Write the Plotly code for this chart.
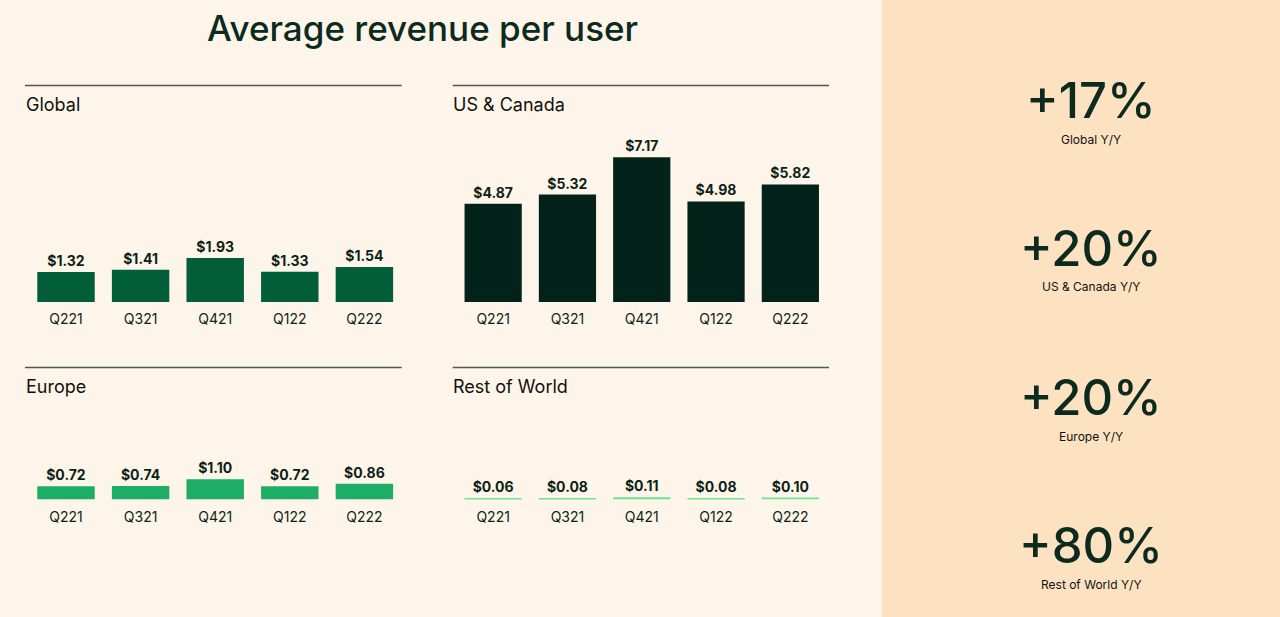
import plotly.graph_objects as go

W, H = 1280, 617

quarters = ["Q221", "Q321", "Q421", "Q122", "Q222"]
global_arpu = [1.32, 1.41, 1.93, 1.33, 1.54]
us_canada_arpu = [4.87, 5.32, 7.17, 4.98, 5.82]
europe_arpu = [0.72, 0.74, 1.10, 0.72, 0.86]
row_arpu = [0.06, 0.08, 0.11, 0.08, 0.10]

panel_titles = ["Global", "US & Canada", "Europe", "Rest of World"]
bar_colors = ["#025D39", "#03231A", "#1DAE65", "#6FE38E"]

yoy_values = ["+17%", "+20%", "+20%", "+80%"]
yoy_labels = ["Global Y/Y", "US & Canada Y/Y", "Europe Y/Y", "Rest of World Y/Y"]

BG = "#FDF5EA"
PANEL = "#FDE2C2"
INK = "#0E1F17"
FONT = "Inter"


def px(x):
    return x / W


def py(y):
    return 1 - y / H


# panel geometry (pixels): x-left, x-right, baseline y, top y, px per unit
panels = [
    (28.7, 401.7, 302, 130, 22.8),
    (456.0, 827.5, 302, 120, 20.2),
    (28.7, 401.7, 499.5, 400, 18.3),
    (456.0, 827.5, 499.5, 400, 20.0),
]
series = [global_arpu, us_canada_arpu, europe_arpu, row_arpu]

fig = go.Figure()
layout_axes = {}
for i, ((xl, xr, yb, yt, scale), vals, col) in enumerate(zip(panels, series, bar_colors)):
    n = "" if i == 0 else str(i + 1)
    fig.add_trace(go.Bar(
        x=quarters, y=vals,
        xaxis="x" + n, yaxis="y" + n,
        marker=dict(color=col, line=dict(width=0)),
        text=[f"${v:.2f}" for v in vals],
        textposition="outside",
        textfont=dict(family=FONT, size=14, color=INK, weight="bold"),
        cliponaxis=False,
        hoverinfo="skip",
        showlegend=False,
    ))
    layout_axes["xaxis" + n] = dict(
        domain=[px(xl), px(xr)], anchor="y" + n,
        showgrid=False, zeroline=False, showline=False,
        ticks="", ticklabelstandoff=7,
        tickfont=dict(family=FONT, size=14, color=INK),
        fixedrange=True,
    )
    layout_axes["yaxis" + n] = dict(
        domain=[py(yb), py(yt)], anchor="x" + n,
        range=[0, (yb - yt) / scale],
        visible=False, showgrid=False, zeroline=False, fixedrange=True,
    )

fig.update_layout(**layout_axes)
fig.update_layout(bargap=0.23)

shapes = [
    dict(type="rect", xref="paper", yref="paper", x0=px(882), x1=1, y0=0, y1=1,
         fillcolor=PANEL, line=dict(width=0), layer="below"),
]
line_pos = [(25, 401.7, 85.5), (452.7, 829, 85.5), (25, 401.7, 367.5), (452.7, 829, 367.5)]
for x0, x1, y in line_pos:
    shapes.append(dict(type="line", xref="paper", yref="paper",
                       x0=px(x0), x1=px(x1), y0=py(y), y1=py(y),
                       line=dict(color="#555555", width=1.5)))

annotations = [
    dict(text="Average revenue per user", xref="paper", yref="paper",
         x=px(422), y=py(28), xanchor="center", yanchor="middle", showarrow=False,
         font=dict(family=FONT, size=35, color="#0C2A1D", weight=500)),
]
title_pos = [(24, 104), (451, 104), (24, 386), (451, 386)]
for t, (x, y) in zip(panel_titles, title_pos):
    annotations.append(dict(text=t, xref="paper", yref="paper", x=px(x), y=py(y),
                            xanchor="left", yanchor="middle", showarrow=False,
                            font=dict(family=FONT, size=18, color="#111111")))

big_y = [100, 248, 397, 545]
for v, lab, y in zip(yoy_values, yoy_labels, big_y):
    annotations.append(dict(text=v, xref="paper", yref="paper", x=px(1091), y=py(y),
                            xanchor="center", yanchor="middle", showarrow=False,
                            font=dict(family=FONT, size=49, color="#0C2A1D", weight=500)))
    annotations.append(dict(text=lab, xref="paper", yref="paper", x=px(1091), y=py(y + 39),
                            xanchor="center", yanchor="middle", showarrow=False,
                            font=dict(family=FONT, size=12, color="#111111")))

fig.update_layout(
    width=W, height=H,
    margin=dict(l=0, r=0, t=0, b=0),
    paper_bgcolor=BG, plot_bgcolor="rgba(0,0,0,0)",
    shapes=shapes, annotations=annotations,
    font=dict(family=FONT),
)

fig.write_html("out.html", config={"displayModeBar": False},
               post_script="document.body.style.margin='0';document.body.style.overflow='hidden';")
